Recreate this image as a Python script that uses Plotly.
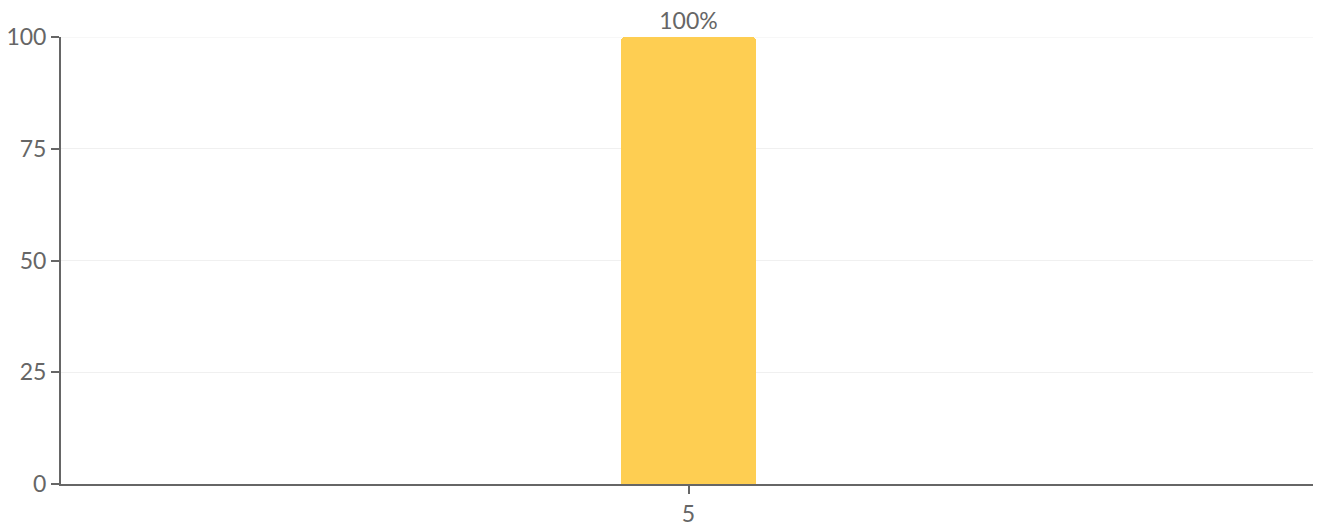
import plotly.graph_objects as go

categories = ["5"]
values = [100]
labels = ["100%"]
y_ticks = [0, 25, 50, 75, 100]

fig = go.Figure(go.Bar(
    x=categories,
    y=values,
    text=labels,
    textposition="outside",
    cliponaxis=False,
    width=0.107,
    marker=dict(color="#FECE52", cornerradius=4, line=dict(width=0)),
    textfont=dict(color="#666666", size=23),
    hoverinfo="skip",
))

# page body has an 8px margin, so size the figure to fit the window
fig.update_layout(
    width=1313, height=514,
    margin=dict(l=53, r=5, t=29, b=38, autoexpand=False),
    paper_bgcolor="white", plot_bgcolor="white",
    font=dict(family="Source Sans Pro, Lato, sans-serif", color="#666666", size=23),
    showlegend=False,
    bargap=0,
)
fig.add_shape(type="line", xref="paper", yref="y", x0=0, x1=1, y0=y_ticks[-1], y1=y_ticks[-1],
              line=dict(color="#F0F0F0", width=1), layer="below")
fig.update_xaxes(
    type="category", showgrid=False, showline=True, linecolor="#666666", linewidth=2,
    ticks="outside", ticklen=8, tickcolor="#666666", tickwidth=2,
    range=[-0.5, 0.5], fixedrange=True, automargin=False,
)
fig.update_yaxes(
    range=[0, 100], tickvals=y_ticks, showgrid=True, gridcolor="#F0F0F0", gridwidth=1,
    showline=True, linecolor="#666666", linewidth=2, zeroline=False,
    ticks="outside", ticklen=8, tickcolor="#666666", tickwidth=2, fixedrange=True, automargin=False,
)

fig.write_html("out.html")
